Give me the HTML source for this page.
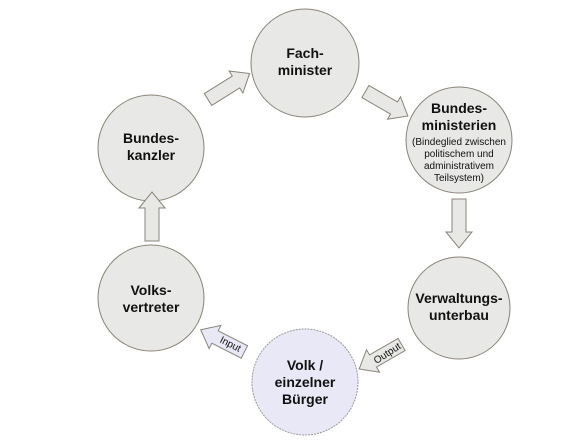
<!DOCTYPE html>
<html><head><meta charset="utf-8"><style>
html,body{margin:0;padding:0;background:#fff;width:563px;height:443px;overflow:hidden}
svg text{font-family:"Liberation Sans",Arial,sans-serif;fill:#111}
</style></head><body>
<svg width="563" height="443" viewBox="0 0 563 443">
<defs>
<polygon id="ar" points="0,-7 -33,-7 -33,7 0,7 0,13 16,0 0,-13"/>
</defs>
<g fill="#e8e8e6" stroke="#8a8478" stroke-width="1">
<circle cx="305" cy="63" r="54"/>
<circle cx="459" cy="140" r="53"/>
<circle cx="151" cy="148" r="53"/>
<circle cx="151" cy="298" r="53"/>
<circle cx="459" cy="308" r="51"/>
<circle cx="305" cy="382" r="53" fill="#e8e8f6" stroke="#9a9a9a" stroke-dasharray="2,1"/>
</g>
<g fill="#e8e8e6" stroke="#8a8478" stroke-width="1">
<use href="#ar" transform="translate(236,82) rotate(-32)"/>
<use href="#ar" transform="translate(394,108) rotate(30)"/>
<use href="#ar" transform="translate(459,232) rotate(90)"/>
<use href="#ar" transform="translate(152,208) rotate(-90)"/>
<use href="#ar" transform="translate(373,361) rotate(150)"/>
<use href="#ar" transform="translate(215,337) rotate(-153)" fill="#e8e8f6"/>
</g>
<g font-weight="bold" font-size="14" text-anchor="middle">
<text x="305" y="58">Fach-</text><text x="305" y="75">minister</text>
<text x="459" y="113">Bundes-</text><text x="459" y="130">ministerien</text>
<text x="151" y="143">Bundes-</text><text x="151" y="160">kanzler</text>
<text x="151" y="295">Volks-</text><text x="151" y="312">vertreter</text>
<text x="459" y="303">Verwaltungs-</text><text x="459" y="320">unterbau</text>
<text x="305" y="370">Volk /</text><text x="305" y="387">einzelner</text><text x="305" y="404">Bürger</text>
</g>
<g font-size="10" text-anchor="middle">
<text x="459" y="145">(Bindeglied zwischen</text>
<text x="459" y="157">politischem und</text>
<text x="459" y="169">administrativem</text>
<text x="459" y="181">Teilsystem)</text>
<text x="229" y="347" transform="rotate(27 229 347)">Input</text>
<text x="389" y="356" transform="rotate(-33 389 356)">Output</text>
</g>
</svg>
</body></html>
